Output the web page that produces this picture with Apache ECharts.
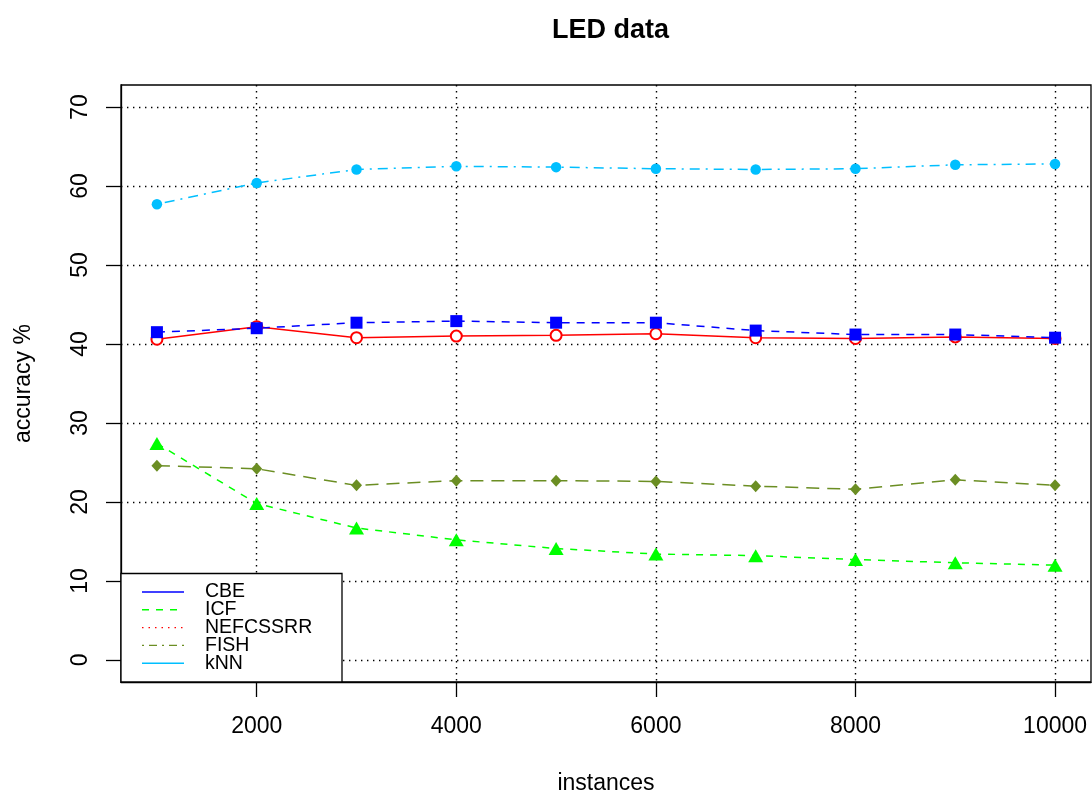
<!DOCTYPE html>
<html>
<head>
<meta charset="utf-8">
<title>LED data</title>
<script src="https://cdn.jsdelivr.net/npm/echarts@6/dist/echarts.min.js"></script>
<style>
  html, body { margin: 0; padding: 0; background: #fff; }
  #chart { width: 1092px; height: 796px; }
</style>
</head>
<body>
<div id="chart"></div>
<script>
// data
var instances = [1000, 2000, 3000, 4000, 5000, 6000, 7000, 8000, 9000, 10000];
var cbe = [41.5, 42.0, 42.7, 42.9, 42.7, 42.7, 41.7, 41.2, 41.2, 40.8];
var icf = [27.4, 19.8, 16.7, 15.2, 14.1, 13.4, 13.2, 12.7, 12.3, 12.0];
var nefcssrr = [40.6, 42.2, 40.8, 41.0, 41.1, 41.3, 40.8, 40.7, 40.9, 40.7];
var fish = [24.6, 24.2, 22.1, 22.7, 22.7, 22.6, 22.0, 21.6, 22.8, 22.1];
var knn = [57.7, 60.4, 62.1, 62.5, 62.4, 62.2, 62.1, 62.2, 62.7, 62.8];

var xTicks = [2000, 4000, 6000, 8000, 10000];
var yTicks = [0, 10, 20, 30, 40, 50, 60, 70];
var legendNames = ['CBE', 'ICF', 'NEFCSSRR', 'FISH', 'kNN'];

var font = 'Liberation Sans, Arial, Helvetica, sans-serif';

function pairs(vals) {
  return instances.map(function (x, i) { return [x, vals[i]]; });
}

var chart = echarts.init(document.getElementById('chart'));

// legend in R is drawn with its own line types (not the ones of the plot)
var legendColors = ['#0000FF', '#00FF00', '#FF0000', '#6B8E23', '#00BFFF'];
var legendDash = ['solid', [7, 7], [1.5, 5], [2, 5, 8, 5], 'solid'];
var legendEls = [
  { type: 'rect', shape: { x: 121, y: 573.5, width: 221, height: 108.5 },
    style: { fill: '#fff', stroke: '#000', lineWidth: 1.3 }, z: 100 }
];
legendNames.forEach(function (name, i) {
  var y = 592 + i * 17.8;
  legendEls.push({ type: 'line', shape: { x1: 142, y1: y, x2: 184, y2: y },
    style: { stroke: legendColors[i], lineWidth: 1.4, lineDash: legendDash[i] === 'solid' ? null : legendDash[i] }, z: 101 });
  legendEls.push({ type: 'text', x: 205, y: y,
    style: { text: name, fill: '#000', font: '19.5px ' + font, textVerticalAlign: 'middle' }, z: 101 });
});

var option = {
  backgroundColor: '#fff',
  animation: false,
  title: {
    text: 'LED data',
    left: 547,
    top: 12,
    textStyle: { fontFamily: font, fontSize: 27, fontWeight: 'bold', color: '#000' }
  },
  grid: {
    left: 121, right: 1, top: 85, bottom: 114,
    outerBoundsMode: 'none',
    show: true, borderColor: '#000', borderWidth: 1.3, backgroundColor: 'transparent'
  },
  xAxis: {
    type: 'value',
    min: 640, max: 10360,
    name: 'instances',
    nameLocation: 'middle',
    nameGap: 90,
    nameTextStyle: { fontFamily: font, fontSize: 23, color: '#000' },
    axisLine: { show: true, onZero: false, lineStyle: { color: '#000', width: 1.3 } },
    axisTick: { show: true, length: 15, customValues: xTicks, lineStyle: { color: '#000', width: 1.3 } },
    axisLabel: { customValues: xTicks, margin: 33, fontFamily: font, fontSize: 23, color: '#000',
      formatter: function (v) { return String(v); } },
    splitLine: { show: true, lineStyle: { color: '#000', width: 1.4, type: [1.4, 4.6] } }
  },
  yAxis: {
    type: 'value',
    min: -2.8, max: 72.8,
    name: 'accuracy %',
    nameLocation: 'middle',
    nameGap: 86,
    nameRotate: 90,
    nameTextStyle: { fontFamily: font, fontSize: 23, color: '#000' },
    axisLine: { show: true, onZero: false, lineStyle: { color: '#000', width: 1.3 } },
    axisTick: { show: true, length: 15, customValues: yTicks, lineStyle: { color: '#000', width: 1.3 } },
    axisLabel: { customValues: yTicks, rotate: 90, margin: 29, fontFamily: font, fontSize: 23, color: '#000',
      formatter: function (v) { return String(v); } },
    splitLine: { show: true, lineStyle: { color: '#000', width: 1.4, type: [1.4, 4.6] } }
  },
  series: [
    {
      name: 'kNN', type: 'line', data: pairs(knn),
      symbol: 'circle', symbolSize: 10.5,
      itemStyle: { color: '#00BFFF' },
      lineStyle: { color: '#00BFFF', width: 1.5, type: [2, 6, 10, 6] }
    },
    {
      name: 'FISH', type: 'line', data: pairs(fish),
      symbol: 'diamond', symbolSize: [11, 12],
      itemStyle: { color: '#6B8E23' },
      lineStyle: { color: '#6B8E23', width: 1.5, type: [13, 8] }
    },
    {
      name: 'ICF', type: 'line', data: pairs(icf),
      symbol: 'triangle', symbolSize: [15, 13],
      itemStyle: { color: '#00FF00' },
      lineStyle: { color: '#00FF00', width: 1.5, type: [7, 7] }
    },
    {
      name: 'NEFCSSRR', type: 'line', data: pairs(nefcssrr),
      symbol: 'emptyCircle', symbolSize: 11,
      itemStyle: { color: '#FF0000', borderWidth: 1.5 },
      lineStyle: { color: '#FF0000', width: 1.5 }
    },
    {
      name: 'CBE', type: 'line', data: pairs(cbe),
      symbol: 'rect', symbolSize: 12,
      itemStyle: { color: '#0000FF' },
      lineStyle: { color: '#0000FF', width: 1.5, type: [8, 7] }
    }
  ],
  graphic: legendEls
};

chart.setOption(option);
</script>
</body>
</html>
